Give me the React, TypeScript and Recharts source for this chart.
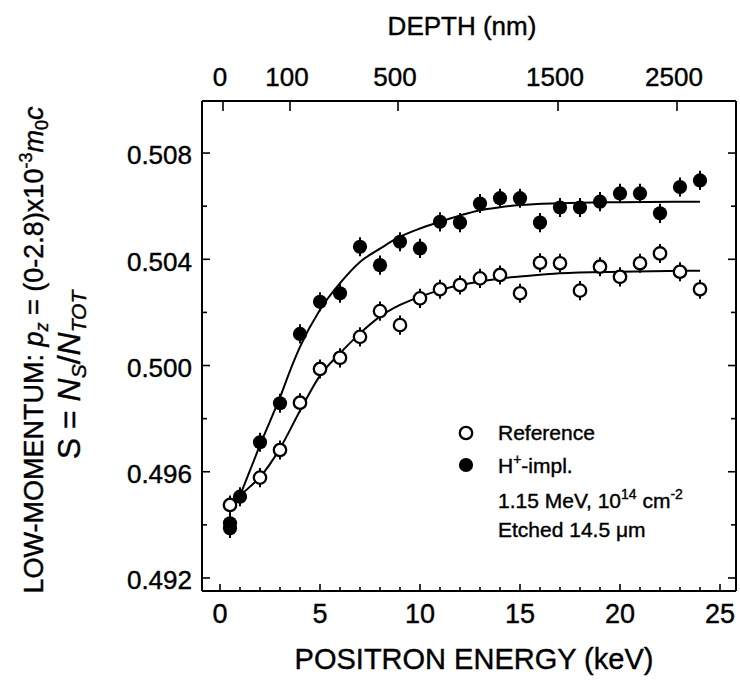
import React from 'react';
import { ComposedChart, XAxis, YAxis, Line, Scatter, ErrorBar } from 'recharts';

// ---- data ----
const openEnergy = [0.5, 2, 3, 4, 5, 6, 7, 8, 9, 10, 11, 12, 13, 14, 15, 16, 17, 18, 19, 20, 21, 22, 23, 24];
const openS = [0.49475, 0.49578, 0.49682, 0.4986, 0.49987, 0.50029, 0.50108, 0.50205, 0.50152, 0.50253, 0.50287, 0.50303,
  0.50328, 0.50341, 0.50272, 0.50387, 0.50385, 0.50282, 0.50372, 0.50334, 0.50385, 0.50422, 0.50353, 0.50287];

const filledEnergy = [0.5, 0.5, 1, 2, 3, 4, 5, 6, 7, 8, 9, 10, 11, 12, 13, 14, 15, 16, 17, 18, 19, 20, 21, 22, 23, 24];
const filledS = [0.49406, 0.49387, 0.49506, 0.49711, 0.49858, 0.50119, 0.5024, 0.50272, 0.50447, 0.50378, 0.50466, 0.50441,
  0.50541, 0.50538, 0.5061, 0.5063, 0.5063, 0.50538, 0.50595, 0.50595, 0.50617, 0.50648, 0.50648, 0.50573, 0.50672, 0.50697];

const fitFilledEnergy = [1, 1.5, 2, 2.5, 3, 3.5, 4, 5, 6, 7, 8, 9, 10, 11, 12, 13, 14, 15, 17, 20, 24];
const fitFilledS = [0.4951, 0.49605, 0.497, 0.4979, 0.4988, 0.4998, 0.5007, 0.5021, 0.5031, 0.5039, 0.5044, 0.50485, 0.50516,
  0.50541, 0.50565, 0.50585, 0.50596, 0.50604, 0.50611, 0.50615, 0.50617];

const fitOpenEnergy = [1, 1.5, 2, 3, 4, 5, 6, 7, 8, 9, 10, 11, 12, 13, 14, 15, 17, 20, 24];
const fitOpenS = [0.4951, 0.49544, 0.4958, 0.49688, 0.4983, 0.49962, 0.50046, 0.50121, 0.50184, 0.50228, 0.50259, 0.50284,
  0.50303, 0.50316, 0.50328, 0.50335, 0.50347, 0.50353, 0.50357];

const errHalf = 0.00036;

const energyTicks = [0, 1, 2, 3, 4, 5, 6, 7, 8, 9, 10, 11, 12, 13, 14, 15, 16, 17, 18, 19, 20, 21, 22, 23, 24, 25];
const sTicks = [0.492, 0.494, 0.496, 0.498, 0.5, 0.502, 0.504, 0.506, 0.508];
const depthTickEnergy = [0.15, 3.5, 8.9, 16.9, 22.85];
const depthTickLabels = ['0', '100', '500', '1500', '2500'];

const openData = openEnergy.map((e, i) => ({ e, s: openS[i], err: errHalf }));
const filledData = filledEnergy.map((e, i) => ({ e, s: filledS[i], err: errHalf }));
const fitFilled = fitFilledEnergy.map((e, i) => ({ e, s: fitFilledS[i] }));
const fitOpen = fitOpenEnergy.map((e, i) => ({ e, s: fitOpenS[i] }));

const FONT = '"Liberation Sans", Arial, Helvetica, sans-serif';
const W = 740;
const H = 682;
const TXT = { fill: '#000', stroke: '#000', strokeWidth: 0.4 };

const BottomTick = (props: any) => {
  const { x, y, payload } = props;
  const v = payload.value;
  const major = Math.round(v) % 5 === 0;
  return (
    <g>
      <line x1={x} x2={x} y1={y} y2={y - (major ? 7 : 4)} stroke="#000" strokeWidth={1.6} />
      {major && (
        <text x={x} y={y + 32} textAnchor="middle" fontSize={27} fontFamily={FONT} {...TXT}>
          {v}
        </text>
      )}
    </g>
  );
};

const TopTick = (props: any) => {
  const { x, y, payload, index } = props;
  const idx = depthTickEnergy.indexOf(payload.value);
  const label = depthTickLabels[idx >= 0 ? idx : index];
  return (
    <g>
      <line x1={x} x2={x} y1={y} y2={y + 10} stroke="#000" strokeWidth={1.6} />
      <text x={x - 3} y={y - 15} textAnchor="middle" fontSize={26} fontFamily={FONT} {...TXT}>
        {label}
      </text>
    </g>
  );
};

const isMajorS = (v: number) => Math.round(v * 1000) % 4 === 0;

const LeftTick = (props: any) => {
  const { x, y, payload } = props;
  const v = payload.value;
  const major = isMajorS(v);
  return (
    <g>
      <line x1={x} x2={x + (major ? 8 : 5)} y1={y} y2={y} stroke="#000" strokeWidth={1.6} />
      {major && (
        <text x={x - 10} y={y + 2} dy="0.36em" textAnchor="end" fontSize={26} fontFamily={FONT} {...TXT}>
          {v.toFixed(3)}
        </text>
      )}
    </g>
  );
};

const RightTick = (props: any) => {
  const { x, y, payload } = props;
  const major = isMajorS(payload.value);
  return <line x1={x} x2={x - (major ? 8 : 5)} y1={y} y2={y} stroke="#000" strokeWidth={1.6} />;
};

const OpenDot = (p: any) => <circle cx={p.cx} cy={p.cy} r={6.2} fill="#fff" stroke="#000" strokeWidth={2.3} />;
const FilledDot = (p: any) => <circle cx={p.cx} cy={p.cy} r={7.1} fill="#000" />;

const Overlay = () => (
  <svg width={W} height={H} style={{ position: 'absolute', left: 0, top: 0, pointerEvents: 'none' }} fontFamily={FONT}>
    <text x={462} y={35} textAnchor="middle" fontSize={26} {...TXT}>DEPTH (nm)</text>
    <text x={474} y={669} textAnchor="middle" fontSize={29} {...TXT}>POSITRON ENERGY (keV)</text>
    <text x={43} y={350} transform="rotate(-90 43 350)" textAnchor="middle" fontSize={27} {...TXT}>
      <tspan>LOW-MOMENTUM:  </tspan>
      <tspan fontStyle="italic">p</tspan>
      <tspan fontStyle="italic" fontSize={18} dy={5}>z</tspan>
      <tspan dy={-5}> = (0-2.8)x10</tspan>
      <tspan fontSize={18} dy={-11}>-3</tspan>
      <tspan fontStyle="italic" dy={11}>m</tspan>
      <tspan fontSize={18} dy={5}>0</tspan>
      <tspan fontStyle="italic" dy={-5}>c</tspan>
    </text>
    <text x={80} y={375} transform="rotate(-90 80 375)" textAnchor="middle" fontSize={32} {...TXT}>
      <tspan>S = </tspan>
      <tspan fontStyle="italic">N</tspan>
      <tspan fontStyle="italic" fontSize={21} dy={6}>S</tspan>
      <tspan dy={-6}>/</tspan>
      <tspan fontStyle="italic">N</tspan>
      <tspan fontStyle="italic" fontSize={21} dy={6}>TOT</tspan>
    </text>
    <circle cx={466} cy={433} r={6.2} fill="#fff" stroke="#000" strokeWidth={2.3} />
    <circle cx={466} cy={465} r={7.1} fill="#000" />
    <text x={498} y={440} fontSize={21} {...TXT}>Reference</text>
    <text x={498} y={473} fontSize={21} {...TXT}>
      <tspan>H</tspan>
      <tspan fontSize={14} dy={-9}>+</tspan>
      <tspan dy={9}>-impl.</tspan>
    </text>
    <text x={498} y={508} fontSize={21} {...TXT}>
      <tspan>1.15 MeV, 10</tspan>
      <tspan fontSize={14} dy={-9}>14</tspan>
      <tspan dy={9}> cm</tspan>
      <tspan fontSize={14} dy={-9}>-2</tspan>
    </text>
    <text x={498} y={537} fontSize={21} {...TXT}>Etched 14.5 μm</text>
  </svg>
);

export default function App() {
  return (
    <div style={{ position: 'absolute', left: 0, top: 0, width: W, height: H, background: '#fff' }}>
      <ComposedChart width={W} height={H} margin={{ top: 0, right: 0, bottom: 0, left: 0 }}>
        <XAxis
          xAxisId={0}
          dataKey="e"
          type="number"
          domain={[-0.9, 25.8]}
          ticks={energyTicks}
          interval={0}
          allowDataOverflow
          height={91}
          orientation="bottom"
          tickSize={0}
          tickMargin={0}
          tickLine={false}
          axisLine={{ stroke: '#000', strokeWidth: 2 }}
          tick={<BottomTick />}
        />
        <XAxis
          xAxisId="top"
          dataKey="e"
          type="number"
          domain={[-0.9, 25.8]}
          ticks={depthTickEnergy}
          interval={0}
          allowDataOverflow
          height={101}
          orientation="top"
          tickSize={0}
          tickMargin={0}
          tickLine={false}
          axisLine={{ stroke: '#000', strokeWidth: 2 }}
          tick={<TopTick />}
        />
        <YAxis
          yAxisId={0}
          dataKey="s"
          type="number"
          domain={[0.49151, 0.50996]}
          ticks={sTicks}
          interval={0}
          allowDataOverflow
          width={202}
          orientation="left"
          tickSize={0}
          tickMargin={0}
          tickLine={false}
          axisLine={{ stroke: '#000', strokeWidth: 2 }}
          tick={<LeftTick />}
        />
        <YAxis
          yAxisId="r"
          dataKey="s"
          type="number"
          domain={[0.49151, 0.50996]}
          ticks={sTicks}
          interval={0}
          allowDataOverflow
          width={4}
          orientation="right"
          tickSize={0}
          tickMargin={0}
          tickLine={false}
          axisLine={{ stroke: '#000', strokeWidth: 2 }}
          tick={<RightTick />}
        />
        {/* invisible copy of the reference fit, tied to the depth axis so that axis gets drawn */}
        <Line xAxisId="top" yAxisId="r" data={fitOpen} dataKey="s" type="monotone" dot={false} activeDot={false}
          stroke="none" strokeWidth={0} isAnimationActive={false} />
        <Line data={fitOpen} dataKey="s" type="monotone" dot={false} stroke="#000" strokeWidth={2} isAnimationActive={false} />
        <Line data={fitFilled} dataKey="s" type="monotone" dot={false} stroke="#000" strokeWidth={2} isAnimationActive={false} />
        <Scatter data={openData} dataKey="s" shape={<OpenDot />} isAnimationActive={false}>
          <ErrorBar dataKey="err" direction="y" width={0} stroke="#000" strokeWidth={2} isAnimationActive={false} />
        </Scatter>
        <Scatter data={filledData} dataKey="s" shape={<FilledDot />} isAnimationActive={false}>
          <ErrorBar dataKey="err" direction="y" width={0} stroke="#000" strokeWidth={2} isAnimationActive={false} />
        </Scatter>
      </ComposedChart>
      <Overlay />
    </div>
  );
}
